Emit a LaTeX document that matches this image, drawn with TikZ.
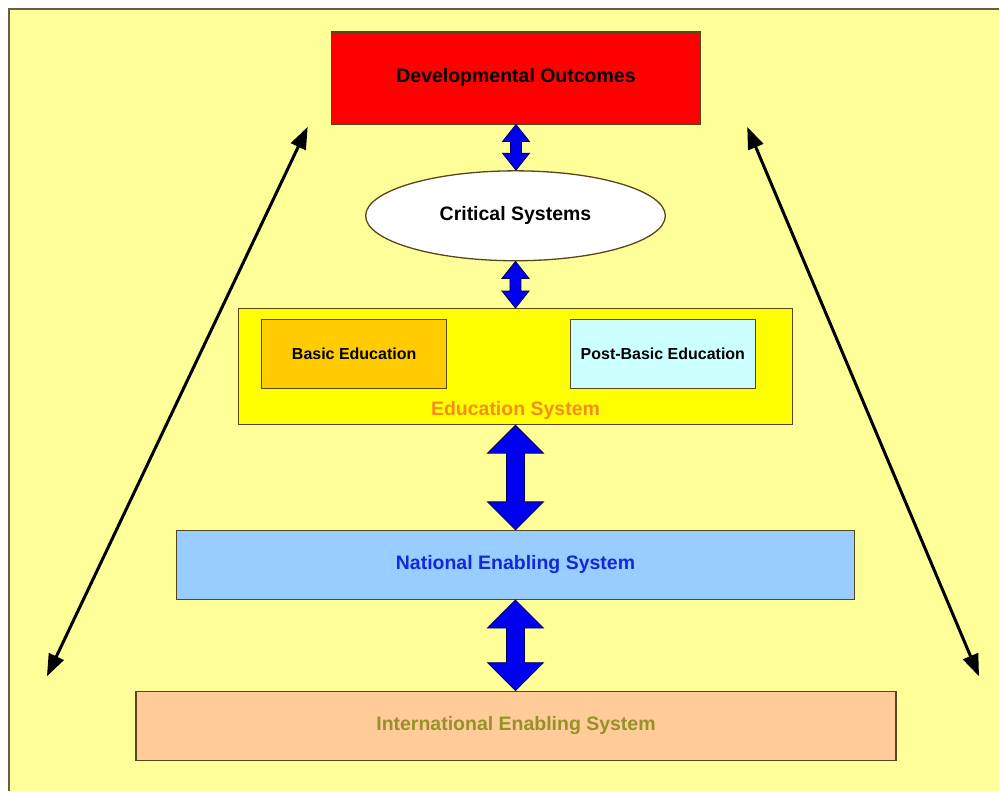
\documentclass[tikz,border=0pt]{standalone}
\usepackage{fontspec}
\setmainfont{Liberation Sans}
\usetikzlibrary{shapes.geometric,arrows.meta,calc}

\definecolor{paper}{RGB}{255,255,153}
\definecolor{frameline}{RGB}{100,95,70}
\definecolor{edge}{RGB}{90,70,30}
\definecolor{outred}{RGB}{255,0,0}
\definecolor{eduyellow}{RGB}{255,255,0}
\definecolor{basicfill}{RGB}{255,204,0}
\definecolor{postfill}{RGB}{204,255,255}
\definecolor{natfill}{RGB}{153,204,255}
\definecolor{intfill}{RGB}{255,204,153}
\definecolor{eduorange}{RGB}{245,140,30}
\definecolor{natblue}{RGB}{20,40,215}
\definecolor{intolive}{RGB}{150,145,40}
\definecolor{linkblue}{RGB}{0,0,240}
\definecolor{linkedge}{RGB}{0,0,90}

\tikzset{
  box/.style={draw=edge, line width=1.3pt, rectangle, inner sep=0pt, align=center},
  bigtext/.style={font=\fontsize{19.5}{22}\selectfont\bfseries},
  smalltext/.style={font=\fontsize{16}{19}\selectfont\bfseries},
  link/.style={fill=linkblue, draw=linkedge, line width=0.8pt, line join=miter},
  span/.style={line width=3pt, {Triangle[length=22pt,width=16pt]}-{Triangle[length=22pt,width=16pt]}}
}

% vertical two-headed block arrow between two anchors:
% #1 upper anchor, #2 lower anchor, #3 head half width, #4 shaft half width, #5 head length
\newcommand\blocklink[5]{%
  \path[link] let \p1=(#1), \p2=(#2) in
    (\x1,\y1) -- (\x1+#3,\y1-#5) -- (\x1+#4,\y1-#5) -- (\x1+#4,\y2+#5)
    -- (\x1+#3,\y2+#5) -- (\x1,\y2) -- (\x1-#3,\y2+#5) -- (\x1-#4,\y2+#5)
    -- (\x1-#4,\y1-#5) -- (\x1-#3,\y1-#5) -- cycle;
}

\begin{document}
\begin{tikzpicture}[x=1pt,y=-1pt]
  % page and backdrop
  \fill[white] (0,0) rectangle (1000,792);
  \fill[paper] (9,9) rectangle (1000,792);
  \draw[frameline, line width=2pt] (9,792) -- (9,9) -- (1000,9);
  \useasboundingbox (0,0) rectangle (1000,792);

  % levels
  \node[box, fill=outred, bigtext, minimum width=369, minimum height=92]
    (outcomes) at (516.5,78) {Developmental Outcomes};
  \node[ellipse, draw=edge, line width=1.3pt, fill=white, bigtext, inner sep=0pt,
        minimum width=300, minimum height=90]
    (critical) at (516,216) {Critical Systems};
  \node[box, fill=eduyellow, minimum width=554, minimum height=116]
    (edusys) at (516,367) {};
  \node[box, fill=basicfill, smalltext, minimum width=185, minimum height=69]
    (basic) at (354.5,354.5) {Basic Education};
  \node[box, fill=postfill, smalltext, minimum width=185, minimum height=69]
    (postbasic) at (663.5,354.5) {Post-Basic Education};
  \node[bigtext, text=eduorange, inner sep=0pt] (edulabel) at (516,411) {Education System};
  \node[box, fill=natfill, bigtext, text=natblue, minimum width=678, minimum height=69]
    (national) at (516,565.5) {National Enabling System};
  \node[box, fill=intfill, bigtext, text=intolive, minimum width=761, minimum height=69]
    (international) at (516.5,726.5) {International Enabling System};

  % links between levels
  \blocklink{outcomes.south}{critical.north}{13.5pt}{5.5pt}{17pt}
  \blocklink{critical.south}{edusys.north}{13.5pt}{5.5pt}{17pt}
  \blocklink{edusys.south}{national.north}{28pt}{9pt}{28pt}
  \blocklink{national.south}{international.north}{28pt}{9pt}{28pt}

  % outer spans
  \coordinate (ltop) at (308,127);
  \coordinate (lbot) at (47,677);
  \coordinate (rtop) at (748,127);
  \coordinate (rbot) at (980,677);
  \draw[span] (ltop) -- (lbot);
  \draw[span] (rtop) -- (rbot);
\end{tikzpicture}
\end{document}
